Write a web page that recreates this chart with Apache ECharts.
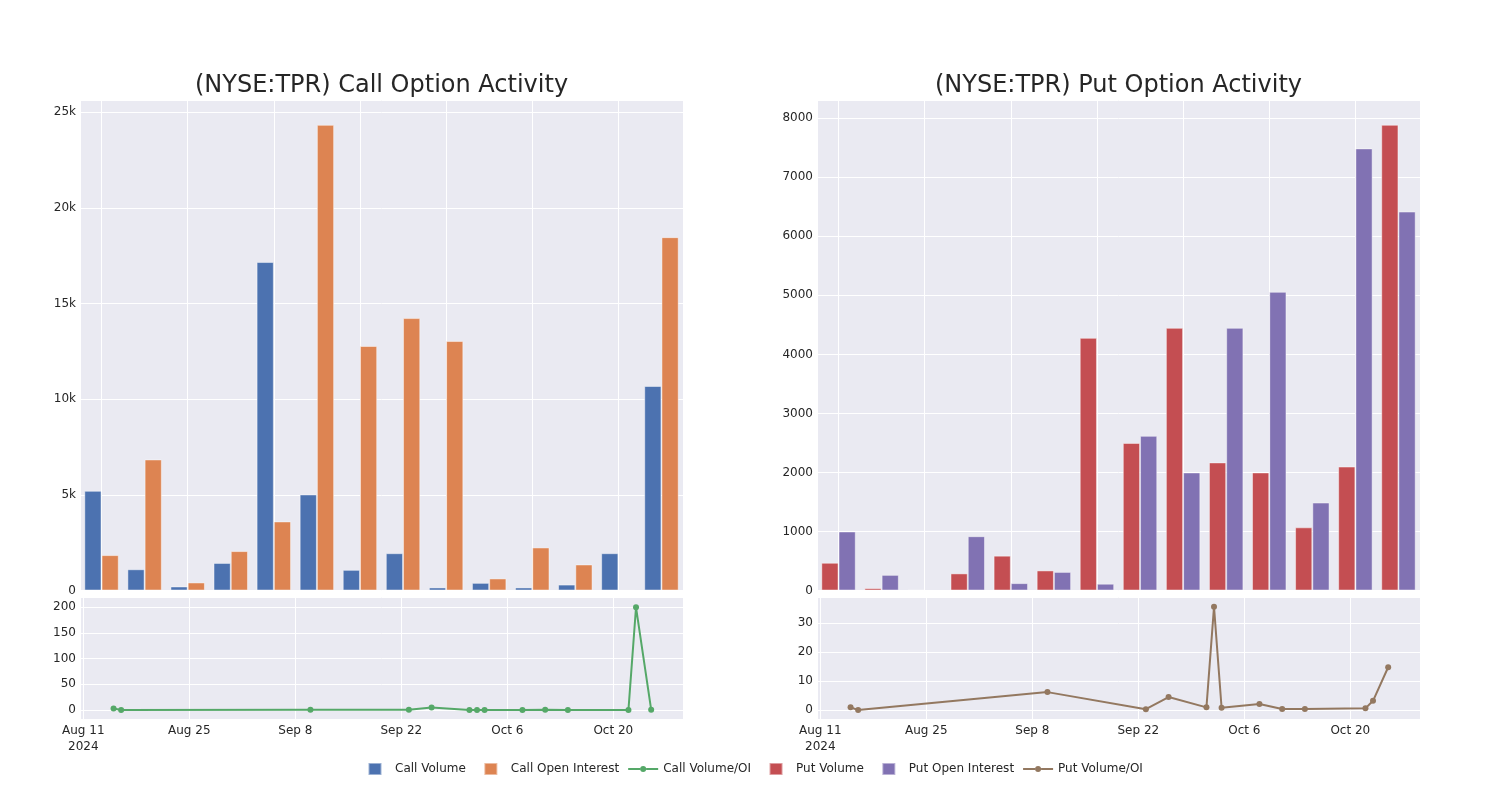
<!DOCTYPE html>
<html><head><meta charset="utf-8">
<script src="https://cdn.jsdelivr.net/npm/echarts@6/dist/echarts.min.js"></script>
<style>html,body{margin:0;padding:0;background:#fff}#c{width:1500px;height:800px}</style>
</head><body><div id="c"></div>
<script>
const expiryDates = ['2024-08-15','2024-08-16','2024-09-10','2024-09-23','2024-09-26','2024-10-01','2024-10-02','2024-10-03','2024-10-08','2024-10-11','2024-10-14','2024-10-22','2024-10-23','2024-10-25'];
const callVolume = [5210,1110,210,1440,17170,5020,1080,1950,160,400,160,310,1950,10690];
const callOpenInterest = [1850,6850,420,2060,3610,24340,12780,14240,13040,630,2250,1360,10,18470];
const callVolOI = [2.8,0.16,0.5,0.7,4.8,0.2,0.08,0.14,0.01,0.63,0.07,0.23,200,0.58];
const putVolume = [470,40,10,290,590,340,4280,2500,4450,2170,2000,1070,2100,7890];
const putOpenInterest = [1000,265,0,920,125,315,115,2620,2000,4450,5060,1490,7490,6420];
const putVolOI = [0.93,0,6.2,0.3,4.5,0.93,35.7,0.8,2.1,0.35,0.35,0.58,3.2,14.8];
const titles = ['(NYSE:TPR) Call Option Activity', '(NYSE:TPR) Put Option Activity'];
const seriesNames = ['Call Volume','Call Open Interest','Call Volume/OI','Put Volume','Put Open Interest','Put Volume/OI'];

const BASE = Date.UTC(2024, 7, 11);
const WEEK = 7 * 864e5;
const MONTHS = ['Jan','Feb','Mar','Apr','May','Jun','Jul','Aug','Sep','Oct','Nov','Dec'];
const toWeeks = d => (Date.parse(d) - BASE) / WEEK;
const weekLabel = v => {
  const dt = new Date(BASE + Math.round(v * 7) * 864e5);
  let s = MONTHS[dt.getUTCMonth()] + ' ' + dt.getUTCDate();
  if (Math.abs(v) < 1e-6) s += '\n' + dt.getUTCFullYear();
  return s;
};

const BG = '#EAEAF2', TXT = '#262626', FONT = 'DejaVu Sans';
const C = {blue:'#4C72B0', orange:'#DD8452', green:'#55A868', red:'#C44E52', purple:'#8172B3', brown:'#937860'};
const split = {show:true, lineStyle:{color:'#fff', width:1}};
const hidden = {axisLine:{show:false}, axisTick:{show:false}};
const lbl = {color: TXT, fontSize: 12, fontFamily: FONT, margin: 4};

const grids = [
  {left:80, width:603, top:100, height:490.5},
  {left:80, width:603, top:597, height:122},
  {left:817, width:603, top:100, height:490.5},
  {left:817, width:603, top:597, height:122}
].map(g => Object.assign(g, {show:true, backgroundColor:BG, borderWidth:0, containLabel:false}));

function xAxesFor(gi) {
  return [
    Object.assign({type:'category', gridIndex:gi, data:expiryDates, axisLabel:{show:false}, splitLine:{show:false}}, hidden),
    Object.assign({type:'value', gridIndex:gi, min:-0.5, max:13.5, splitNumber:7, axisLabel:{show:false}, splitLine:split}, hidden),
    Object.assign({type:'value', gridIndex:gi+1, min:-0.062, max:11.315, splitNumber:5,
      axisLabel:Object.assign({}, lbl, {showMinLabel:false, showMaxLabel:false, formatter:weekLabel, lineHeight:16}), splitLine:split}, hidden)
  ];
}
const xAxis = xAxesFor(0).concat(xAxesFor(2));
const yAxis = [
  Object.assign({type:'value', gridIndex:0, min:0, max:25640, splitNumber:5,
    axisLabel:Object.assign({}, lbl, {showMaxLabel:false, formatter: v => v === 0 ? '0' : (v/1000) + 'k'}), splitLine:split}, hidden),
  Object.assign({type:'value', gridIndex:1, min:-17.5, max:220, splitNumber:5,
    axisLabel:Object.assign({}, lbl, {showMinLabel:false, showMaxLabel:false}), splitLine:split}, hidden),
  Object.assign({type:'value', gridIndex:2, min:0, max:8310, splitNumber:8,
    axisLabel:Object.assign({}, lbl, {showMaxLabel:false, formatter: v => String(v)}), splitLine:split}, hidden),
  Object.assign({type:'value', gridIndex:3, min:-3.1, max:39.1, splitNumber:4,
    axisLabel:Object.assign({}, lbl, {showMinLabel:false, showMaxLabel:false}), splitLine:split}, hidden)
];

const bar = (name, data, color, xi, yi) => ({
  name, type:'bar', xAxisIndex:xi, yAxisIndex:yi, data, barGap:'0%', barCategoryGap:'20%',
  itemStyle:{color, borderColor:'rgba(255,255,255,0.45)', borderWidth:1}
});
const line = (name, vals, color, xi, yi) => ({
  name, type:'line', xAxisIndex:xi, yAxisIndex:yi,
  data: expiryDates.map((d, i) => [toWeeks(d), vals[i]]),
  symbol:'circle', symbolSize:6, itemStyle:{color}, lineStyle:{color, width:2}
});

// Icons span the full 30x12 legend cell so every item keeps the same footprint
const sq = 'path://M0,0L0,0M8.5,0L21.5,0L21.5,12L8.5,12ZM30,12L30,12';
const lineIcon = 'path://M0,0L0,0M0,5L12,5L12,7L0,7ZM18,5L30,5L30,7L18,7ZM12,6A3,3 0 1 0 18,6A3,3 0 1 0 12,6ZM30,12L30,12';
const option = {
  animation:false,
  textStyle:{fontFamily:FONT},
  title: titles.map((t, i) => ({text:t, left: i === 0 ? 376.5 : 1113.5, top:69, textAlign:'center',
    textStyle:{fontSize:24, fontWeight:'normal', color:TXT, fontFamily:FONT}})),
  grid: grids,
  xAxis, yAxis,
  legend: {
    left:359, top:762, padding:0, itemWidth:30, itemHeight:12, itemGap:9,
    textStyle:{color:TXT, fontSize:12, fontFamily:FONT},
    data:[
      {name:seriesNames[0], icon:sq}, {name:seriesNames[1], icon:sq}, {name:seriesNames[2], icon:lineIcon},
      {name:seriesNames[3], icon:sq}, {name:seriesNames[4], icon:sq}, {name:seriesNames[5], icon:lineIcon}
    ]
  },
  series: [
    bar(seriesNames[0], callVolume, C.blue, 0, 0),
    bar(seriesNames[1], callOpenInterest, C.orange, 0, 0),
    line(seriesNames[2], callVolOI, C.green, 2, 1),
    bar(seriesNames[3], putVolume, C.red, 3, 2),
    bar(seriesNames[4], putOpenInterest, C.purple, 3, 2),
    line(seriesNames[5], putVolOI, C.brown, 5, 3)
  ]
};
echarts.init(document.getElementById('c')).setOption(option);
</script>
</body></html>
